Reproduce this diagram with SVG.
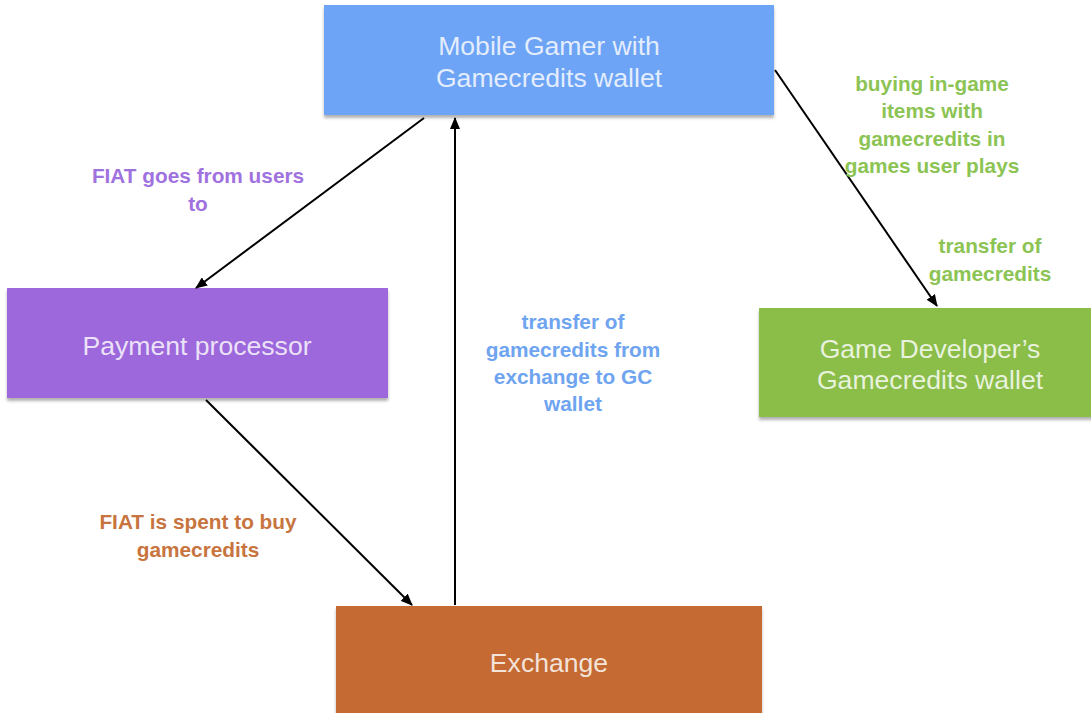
<svg xmlns="http://www.w3.org/2000/svg" width="1091" height="713" viewBox="0 0 1091 713">
<defs>
<filter id="sh" x="-5%" y="-10%" width="110%" height="125%">
<feDropShadow dx="0" dy="3" stdDeviation="1.5" flood-color="#000" flood-opacity="0.3"/>
</filter>
<marker id="ah" markerWidth="12" markerHeight="10" refX="11" refY="5" orient="auto" markerUnits="userSpaceOnUse">
<path d="M0,0 L12,5 L0,10 Z" fill="#000"/>
</marker>
<style>
.box text{font-family:"Liberation Sans",Arial,sans-serif;font-size:26.6px;fill:#fff;fill-opacity:0.82;text-anchor:middle}
.lbl{font-family:"Liberation Sans",Arial,sans-serif;font-size:20.8px;font-weight:bold;text-anchor:middle}
.conn line{stroke:#000;stroke-width:2;marker-end:url(#ah)}
</style>
</defs>
<rect width="1091" height="713" fill="#fff"/>
<g id="gamer" class="box">
<rect x="324" y="5" width="450" height="110" fill="#6ea4f5" filter="url(#sh)"/>
<text x="549" y="55">Mobile Gamer with</text>
<text x="549" y="87">Gamecredits wallet</text>
</g>
<g id="payment" class="box">
<rect x="7" y="288" width="381" height="110" fill="#9d68dc" filter="url(#sh)"/>
<text x="197" y="355">Payment processor</text>
</g>
<g id="developer" class="box">
<rect x="759" y="308" width="340" height="109" fill="#8bbd4a" filter="url(#sh)"/>
<text x="930" y="358">Game Developer’s</text>
<text x="930" y="389">Gamecredits wallet</text>
</g>
<g id="exchange" class="box">
<rect x="336" y="606" width="426" height="115" fill="#c46a32" filter="url(#sh)"/>
<text x="549" y="672">Exchange</text>
</g>
<g id="connectors" class="conn">
<line x1="424" y1="118" x2="196" y2="288"/>
<line x1="206" y1="400" x2="412" y2="605"/>
<line x1="455" y1="605" x2="455" y2="118"/>
<line x1="775" y1="70" x2="937" y2="306"/>
</g>
<g id="labels">
<text class="lbl" fill="#a072e0" x="198" y="183">FIAT goes from users</text>
<text class="lbl" fill="#a072e0" x="198" y="211">to</text>
<text class="lbl" fill="#c8743e" x="198" y="529">FIAT is spent to buy</text>
<text class="lbl" fill="#c8743e" x="198" y="557">gamecredits</text>
<text class="lbl" fill="#6ea4f0" x="573" y="329">transfer of</text>
<text class="lbl" fill="#6ea4f0" x="573" y="357">gamecredits from</text>
<text class="lbl" fill="#6ea4f0" x="573" y="384">exchange to GC</text>
<text class="lbl" fill="#6ea4f0" x="573" y="411">wallet</text>
<text class="lbl" fill="#8cc454" x="932" y="91">buying in-game</text>
<text class="lbl" fill="#8cc454" x="932" y="118">items with</text>
<text class="lbl" fill="#8cc454" x="932" y="146">gamecredits in</text>
<text class="lbl" fill="#8cc454" x="932" y="173">games user plays</text>
<text class="lbl" fill="#8cc454" x="990" y="253">transfer of</text>
<text class="lbl" fill="#8cc454" x="990" y="281">gamecredits</text>
</g>
</svg>
